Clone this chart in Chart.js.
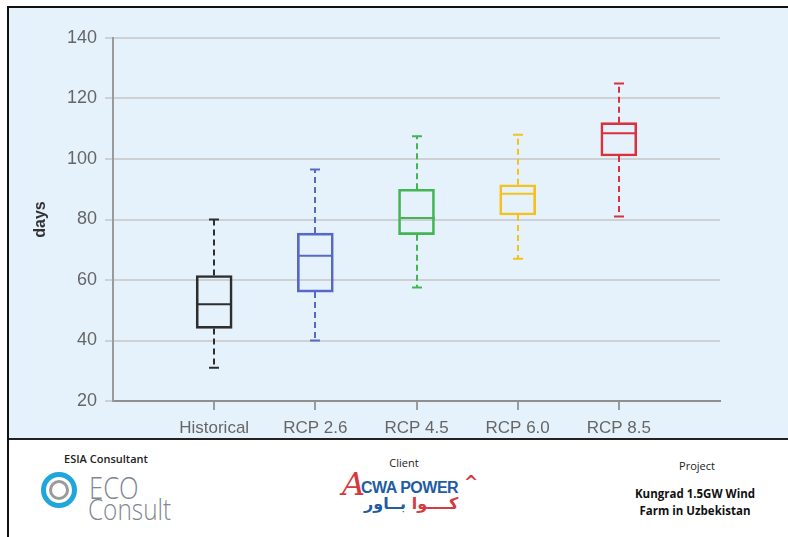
<!DOCTYPE html>
<html>
<head>
<meta charset="utf-8">
<script src="https://cdn.jsdelivr.net/npm/chart.js@4.4.1/dist/chart.umd.min.js"></script>
<style>
  html, body { margin: 0; padding: 0; background: #fff; width: 788px; height: 537px; overflow: hidden; }
  #panel {
    position: absolute; left: 7px; top: 6px; width: 781px; height: 430px;
    background: #e6f2fb;
    border-top: 2px solid #111; border-left: 2px solid #111; border-bottom: 2px solid #222;
  }
  #panel canvas { position: absolute; left: 0; top: 0; }
  #footLine { position: absolute; left: 7px; top: 438px; width: 2px; height: 99px; background: #111; }
  .lbl { position: absolute; font-family: "Open Sans", sans-serif; font-size: 11px; color: #222; text-align: center; white-space: nowrap; }
  .eco { position: absolute; font-family: "Open Sans", sans-serif; font-weight: 300; color: #7f8792; line-height: 1; transform-origin: 0 0; }
  .ring { position: absolute; border-radius: 50%; box-sizing: border-box; }
</style>
</head>
<body>
<div id="panel"><canvas id="boxChart" width="779" height="428"></canvas></div>
<div id="footLine"></div>

<!-- footer -->
<div class="lbl" style="left:56px; top:451px; width:100px; font-weight:600;">ESIA Consultant</div>
<div class="ring" style="left:41px; top:472px; width:36px; height:36px; border:5px solid #1fa6da;"></div>
<div class="ring" style="left:49px; top:480px; width:20px; height:20px; border:3px solid #9a9a9a;"></div>
<div class="eco" style="left:89px; top:471px; font-size:32px; transform:scaleX(0.8);">ECO</div>
<div class="eco" style="left:88px; top:494px; font-size:29px; transform:scaleX(0.84);">Consult</div>

<div class="lbl" style="left:369px; top:455px; width:70px;">Client</div>
<div style="position:absolute; left:342px; top:468px; font-family:'DejaVu Serif',serif; font-style:italic; font-size:32px; color:#d43a3f; line-height:1;">A</div>
<div style="position:absolute; left:361px; top:480px; font-family:'Liberation Sans',sans-serif; font-weight:bold; font-size:16px; color:#1f5ca6; line-height:1; letter-spacing:-0.5px;">CWA POWER</div>
<div style="position:absolute; left:464px; top:474px; font-family:'DejaVu Sans',sans-serif; font-weight:bold; font-size:17px; color:#d43a3f; line-height:1;">^</div>
<div dir="rtl" style="position:absolute; left:364px; top:495px; width:108px; text-align:left; font-family:'DejaVu Sans',sans-serif; font-weight:bold; font-size:16px; line-height:1.1;"><span style="color:#d43a3f;">كــــوا</span> <span style="color:#1f5ca6;">بــاور</span></div>

<div class="lbl" style="left:657px; top:458px; width:80px;">Project</div>
<div class="lbl" style="left:625px; top:485px; width:140px; font-weight:700; font-size:11.5px; line-height:17px; color:#111;">Kungrad 1.5GW Wind<br>Farm in Uzbekistan</div>

<script>
// box plot values (days)
const categories = ['Historical', 'RCP 2.6', 'RCP 4.5', 'RCP 6.0', 'RCP 8.5'];
const whiskerLow = [31, 40, 57.5, 67, 81];
const q1 = [44, 56, 75, 81.5, 101];
const median = [52, 68, 80.5, 88.5, 108.5];
const q3 = [61.5, 75.5, 90, 91.5, 112];
const whiskerHigh = [80, 96.5, 107.5, 108, 125];
const boxColors = ['#2e2e2e', '#5868c9', '#43b553', '#f3c21c', '#d8333d'];
const yTicks = [20, 40, 60, 80, 100, 120, 140];

// whiskers, caps and medians drawn on top of the floating bars
const boxWhiskers = {
  id: 'boxWhiskers',
  afterDatasetsDraw(c) {
    const ctx = c.ctx;
    const y = c.scales.y;
    const bars = c.getDatasetMeta(0).data;
    ctx.save();
    ctx.lineWidth = 2;
    bars.forEach((bar, i) => {
      const xc = Math.round(bar.x);
      const half = bar.width / 2;
      ctx.strokeStyle = boxColors[i];
      // dashed whiskers
      ctx.setLineDash([6, 4]);
      ctx.beginPath();
      ctx.moveTo(xc, y.getPixelForValue(q3[i]));
      ctx.lineTo(xc, y.getPixelForValue(whiskerHigh[i]));
      ctx.moveTo(xc, y.getPixelForValue(q1[i]));
      ctx.lineTo(xc, y.getPixelForValue(whiskerLow[i]));
      ctx.stroke();
      // caps + median
      ctx.setLineDash([]);
      ctx.beginPath();
      [whiskerHigh[i], whiskerLow[i]].forEach((v) => {
        const py = y.getPixelForValue(v);
        ctx.moveTo(xc - 5, py);
        ctx.lineTo(xc + 5, py);
      });
      const pm = y.getPixelForValue(median[i]);
      ctx.moveTo(xc - half, pm);
      ctx.lineTo(xc + half, pm);
      ctx.stroke();
    });
    ctx.restore();
  },
};

new Chart(document.getElementById('boxChart'), {
  type: 'bar',
  data: {
    datasets: [{
      data: categories.map((c, i) => ({ x: i + 1, y: [q1[i], q3[i]] })),
      backgroundColor: 'rgba(0,0,0,0)',
      borderColor: boxColors,
      borderWidth: 2,
      borderSkipped: false,
      barThickness: 36,
    }],
  },
  options: {
    responsive: false,
    animation: false,
    layout: { padding: { top: 30, right: 68, left: 0, bottom: 0 } },
    scales: {
      x: {
        type: 'linear',
        min: 0,
        max: 6,
        offset: false,
        afterBuildTicks: (s) => { s.ticks = categories.map((c, i) => ({ value: i + 1 })); },
        afterFit: (s) => { s.height = 35; },
        grid: { offset: false, drawOnChartArea: false, drawTicks: true, tickLength: 9, color: '#9c9c9c', lineWidth: 2 },
        border: { color: '#8f8f8f', width: 2 },
        ticks: {
          padding: 8,
          color: '#666',
          font: { family: 'Liberation Sans', size: 17 },
          callback: (v) => categories[v - 1],
        },
      },
      y: {
        min: 20,
        max: 140,
        afterBuildTicks: (s) => { s.ticks = yTicks.map((v) => ({ value: v })); },
        afterFit: (s) => { s.width = 104; },
        grid: { color: '#cdd1d4', lineWidth: 2, tickLength: 8 },
        border: { color: '#9a9a9a', width: 2 },
        ticks: {
          padding: 8,
          color: '#666',
          font: { family: 'Liberation Sans', size: 18 },
        },
        title: {
          display: true,
          text: 'days',
          color: '#333',
          font: { family: 'Liberation Sans', size: 16, weight: 'bold' },
          padding: { top: 22, bottom: 0 },
        },
      },
    },
    plugins: {
      legend: { display: false },
      tooltip: { enabled: false },
    },
  },
  plugins: [boxWhiskers],
});
</script>
</body>
</html>
